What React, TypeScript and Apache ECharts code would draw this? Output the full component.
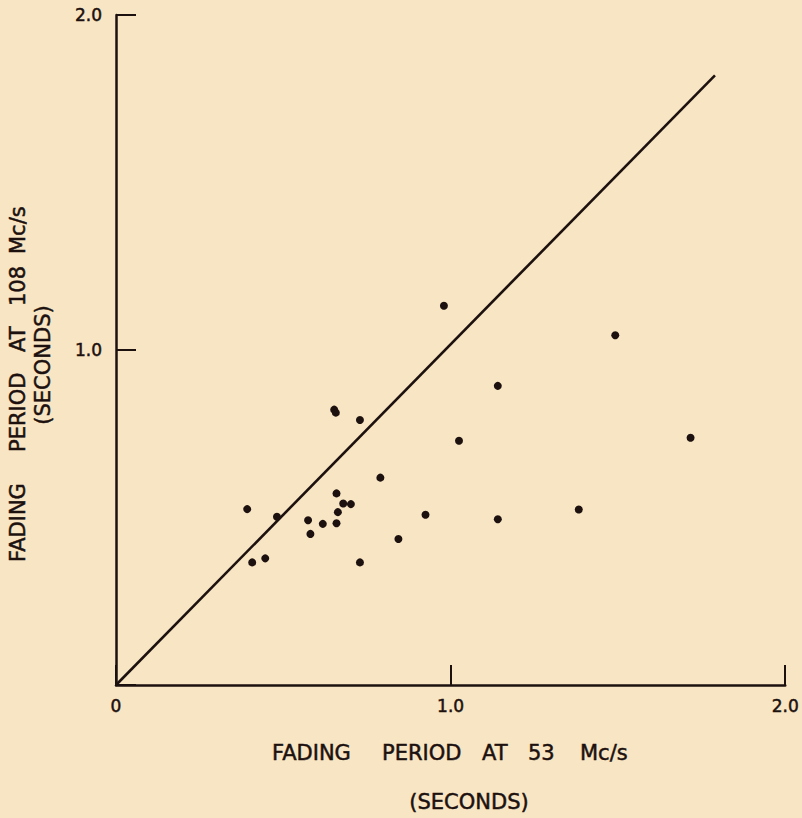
import React, { useEffect, useRef } from "react";
import * as echarts from "echarts";

// Fading period at 53 Mc/s (x, seconds) vs at 108 Mc/s (y, seconds)
const period53: number[] = [
  0.652, 0.657, 0.729, 0.790, 0.659, 0.679, 0.702, 0.392, 0.481, 0.663,
  0.574, 0.618, 0.659, 0.925, 0.581, 0.844, 0.407, 0.446, 0.729, 0.980,
  1.492, 1.141, 1.025, 1.717, 1.141, 1.383,
];
const period108: number[] = [
  0.822, 0.813, 0.791, 0.619, 0.572, 0.542, 0.540, 0.525, 0.502, 0.516,
  0.492, 0.481, 0.483, 0.508, 0.451, 0.436, 0.366, 0.378, 0.366, 1.132,
  1.044, 0.893, 0.729, 0.738, 0.495, 0.524,
];
// reference (equal period) line
const lineX: number[] = [0, 1.79];
const lineY: number[] = [0, 1.82];

const xTicks: number[] = [0, 1, 2];
const xTitleWords: string[] = ["FADING", "PERIOD", "AT", "53", "Mc/s"];
const yTitleWords: string[] = ["FADING", "PERIOD", "AT", "108", "Mc/s"];
const subTitle = "(SECONDS)";

const INK = "#1c110f";
const BG = "#f8e5c3";
const FONT = "DejaVu Sans";

export default function App() {
  const ref = useRef<HTMLDivElement>(null);
  useEffect(() => {
    if (!ref.current) return;
    const chart = echarts.init(ref.current, undefined, { renderer: "svg" });
    const pts = period53.map((x, i) => [x, period108[i]]);
    const linePts = lineX.map((x, i) => [x, lineY[i]]);
    const xWordLeft = [272, 382, 482, 528, 580];
    const yWordBottom = [562, 452, 352, 306, 254];
    const textStyle = (text: string, align: string) => ({
      text,
      fill: INK,
      stroke: INK,
      lineWidth: 0.5,
      font: `21px "${FONT}"`,
      textAlign: align,
      textVerticalAlign: "middle",
    });
    const graphics: any[] = [];
    xTitleWords.forEach((w, i) => {
      graphics.push({ type: "text", x: xWordLeft[i], y: 753, style: textStyle(w, "left") });
    });
    graphics.push({ type: "text", x: 469, y: 802, style: textStyle(subTitle, "center") });
    yTitleWords.forEach((w, i) => {
      graphics.push({
        type: "text",
        x: 18,
        y: yWordBottom[i],
        rotation: Math.PI / 2,
        style: textStyle(w, "left"),
      });
    });
    graphics.push({
      type: "text",
      x: 43,
      y: 365,
      rotation: Math.PI / 2,
      style: textStyle(subTitle, "center"),
    });

    const labelCommon = {
      show: true,
      color: INK,
      fontSize: 17,
      fontFamily: FONT,
      textBorderColor: INK,
      textBorderWidth: 0.5,
    };

    chart.setOption({
      animation: false,
      backgroundColor: BG,
      grid: { left: 116, top: 15, right: 15, bottom: 133, containLabel: false },
      xAxis: {
        type: "value",
        min: xTicks[0],
        max: xTicks[xTicks.length - 1],
        interval: 1,
        axisLine: { show: true, onZero: false, lineStyle: { color: INK, width: 2.5 } },
        axisTick: { show: true, inside: true, length: 20, lineStyle: { color: INK, width: 2 } },
        axisLabel: {
          ...labelCommon,
          margin: 12,
          formatter: (v: number) => (v === 0 ? "0" : v.toFixed(1)),
        },
        splitLine: { show: false },
      },
      yAxis: {
        type: "value",
        min: 0,
        max: 2,
        interval: 1,
        axisLine: { show: true, onZero: false, lineStyle: { color: INK, width: 2.5 } },
        axisTick: { show: true, inside: true, length: 20, lineStyle: { color: INK, width: 2 } },
        axisLabel: {
          ...labelCommon,
          margin: 14,
          formatter: (v: number) => (v === 0 ? "" : v.toFixed(1)),
        },
        splitLine: { show: false },
      },
      series: [
        {
          type: "line",
          data: linePts,
          showSymbol: false,
          lineStyle: { color: INK, width: 2.6 },
          z: 3,
        },
        {
          type: "scatter",
          data: pts,
          symbol: "circle",
          symbolSize: 8,
          itemStyle: { color: INK, opacity: 1 },
          z: 4,
        },
      ],
      graphic: graphics,
    });
    return () => chart.dispose();
  }, []);
  return (
    <div
      ref={ref}
      style={{ position: "absolute", left: 0, top: 0, width: 802, height: 818 }}
    />
  );
}
